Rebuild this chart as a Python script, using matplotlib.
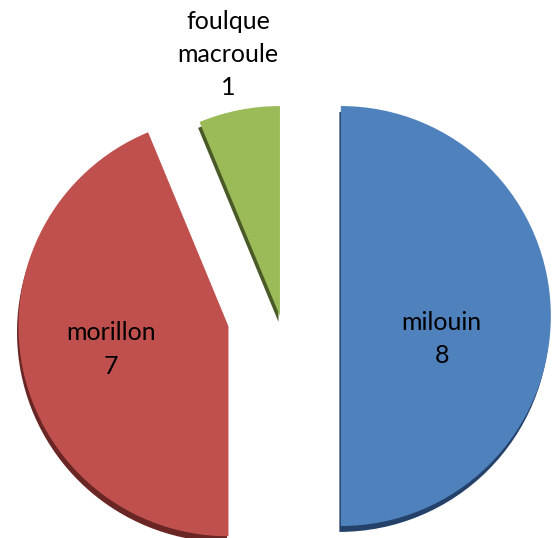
import numpy as np
import matplotlib.pyplot as plt

species = ["milouin", "morillon", "foulque\nmacroule"]
counts = [8, 7, 1]
colors = ["#4F81BD", "#C0504D", "#9BBB59"]
rim_colors = ["#24416a", "#6a2624", "#4a5a26"]
explode = [0.29, 0.25, 0.0]
label_dist = [0.48, 0.57, 1.27]
label_drop = [0.11, 0.0, 0.0]

fig = plt.figure(figsize=(5.58, 5.38), dpi=100)
ax = fig.add_axes([0, 0, 1, 1])

# darker copy shifted down-left gives the 3d rim
ax.pie(counts, colors=rim_colors, explode=explode, startangle=90,
       counterclock=False, center=(-0.007, -0.028))
wedges, _ = ax.pie(counts, colors=colors, explode=explode, startangle=90,
                   counterclock=False)

for w, name, n, d, dy in zip(wedges, species, counts, label_dist, label_drop):
    mid = np.deg2rad((w.theta1 + w.theta2) / 2)
    cx, cy = w.center
    ax.text(cx + d * np.cos(mid), cy + d * np.sin(mid) - dy, f"{name}\n{n}",
            ha="center", va="center", fontsize=18, family="Lato",
            linespacing=1.55)

ax.set_xlim(-1.333, 1.324)
ax.set_ylim(-1.057, 1.505)
ax.set_aspect("equal")
ax.axis("off")
fig.savefig("out.png", dpi=100)
